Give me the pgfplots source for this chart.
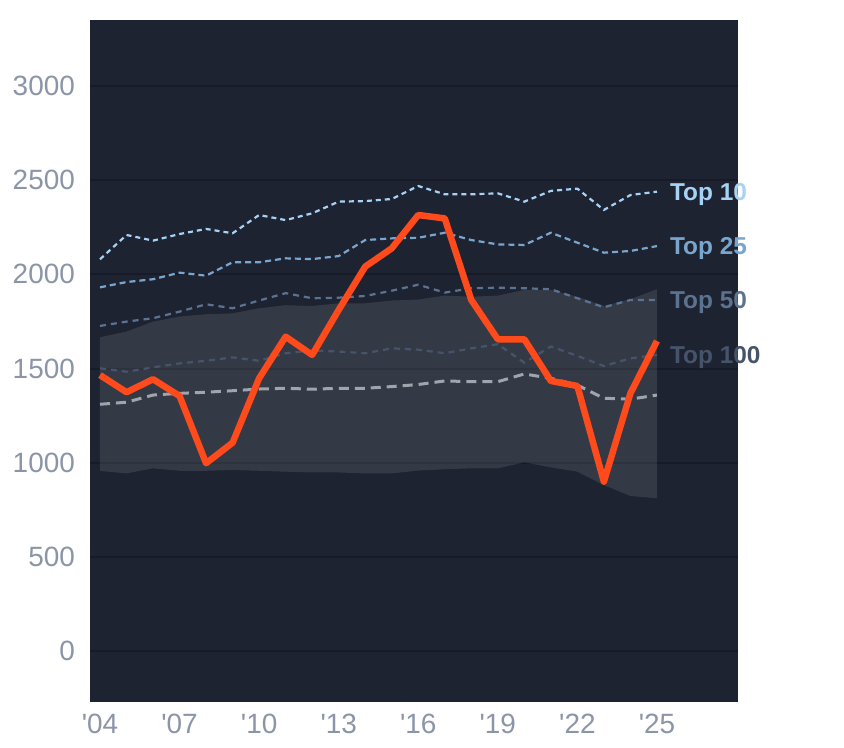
\documentclass[border=0pt]{standalone}
\usepackage{fontspec}
\setmainfont{Liberation Sans}[Ligatures=TeXOff]
\usepackage{pgfplots}
\usepackage{pgfplotstable}
\pgfplotsset{compat=1.18}
\definecolor{bgc}{HTML}{1E2331}
\definecolor{gridc}{HTML}{171B27}
\definecolor{tickc}{HTML}{8B95A7}
\definecolor{redc}{HTML}{FF4A1C}
\definecolor{t10}{HTML}{A6D2F5}
\definecolor{t25}{HTML}{79A6CF}
\definecolor{t50}{HTML}{5B7391}
\definecolor{t100}{HTML}{46546B}
\definecolor{grayc}{HTML}{A0A4AD}
\pgfplotstableread{
year red top10 top25 top50 top100 med
2004 1465 2080 1931 1726 1501 1310
2005 1374 2209 1959 1749 1483 1321
2006 1443 2179 1974 1767 1506 1359
2007 1354 2214 2009 1802 1527 1368
2008 997 2241 1993 1841 1541 1374
2009 1106 2218 2064 1820 1559 1382
2010 1448 2315 2064 1861 1541 1391
2011 1669 2288 2085 1900 1581 1395
2012 1572 2324 2081 1873 1595 1390
2013 1811 2386 2097 1876 1590 1395
2014 2041 2389 2182 1885 1581 1395
2015 2138 2400 2191 1913 1607 1404
2016 2315 2469 2194 1945 1600 1415
2017 2297 2425 2221 1903 1581 1434
2018 1864 2425 2182 1926 1607 1430
2019 1655 2430 2159 1929 1629 1430
2020 1655 2386 2156 1926 1531 1471
2021 1434 2443 2221 1921 1617 1448
2022 1407 2455 2168 1873 1567 1412
2023 899 2342 2115 1825 1513 1342
2024 1368 2421 2124 1864 1554 1337
2025 1646 2439 2150 1864 1572 1359
}\data
\begin{document}
\begin{tikzpicture}
\fill[white] (0,0) rectangle (844bp,748bp);
\begin{axis}[
  at={(90bp,46bp)}, anchor=south west,
  scale only axis, width=648bp, height=682bp,
  xmin=2003.623, xmax=2028.057, ymin=-270.8, ymax=3350.5,
  axis background/.style={fill=bgc},
  axis line style={draw=none},
  major tick length=0pt,
  clip=false,
  ytick={0,500,1000,1500,2000,2500,3000},
  xtick={2004,2007,2010,2013,2016,2019,2022,2025},
  xticklabels={'04,'07,'10,'13,'16,'19,'22,'25},
  /pgf/number format/assume math mode=true,
  /pgf/number format/1000 sep={},
  yticklabel style={font=\fontsize{28}{28}\selectfont, text=tickc, inner sep=0pt, anchor=east, xshift=-15bp},
  xticklabel style={font=\fontsize{28}{28}\selectfont, text=tickc, inner sep=0pt, anchor=north, yshift=-12bp},
  ymajorgrids,
  grid style={draw=gridc, line width=2bp},
]
% band: upper edge forward, lower edge backward
\addplot[fill=white, fill opacity=0.1, draw=none] coordinates {
(2004,1666) (2005,1696) (2006,1749) (2007,1776) (2008,1788) (2009,1793) (2010,1820) (2011,1836)
(2012,1832) (2013,1846) (2014,1846) (2015,1861) (2016,1866) (2017,1887) (2018,1881) (2019,1887)
(2020,1917) (2021,1917) (2022,1881) (2023,1832) (2024,1868) (2025,1921)
(2025,811) (2024,823) (2023,881) (2022,952) (2021,975) (2020,1002) (2019,970) (2018,970)
(2017,965) (2016,958) (2015,943) (2014,943) (2013,948) (2012,948) (2011,952) (2010,957)
(2009,961) (2008,957) (2007,957) (2006,970) (2005,943) (2004,956)
} -- cycle;
\addplot[t100, line width=2.2bp, dash pattern=on 6bp off 5bp] table[x=year,y=top100]{\data};
\addplot[t50, line width=2.2bp, dash pattern=on 6bp off 5bp] table[x=year,y=top50]{\data};
\addplot[t25, line width=2.2bp, dash pattern=on 6bp off 4bp] table[x=year,y=top25]{\data};
\addplot[t10, line width=2.2bp, dash pattern=on 5bp off 4bp] table[x=year,y=top10]{\data};
\addplot[grayc, line width=3bp, dash pattern=on 10bp off 6bp] table[x=year,y=med]{\data};
\addplot[redc, line width=6.5bp, line join=round] table[x=year,y=red]{\data};
\node[anchor=base west, inner sep=0pt, xshift=13bp, yshift=-8.5bp, text=t10, font=\fontsize{24.5}{24.5}\selectfont\bfseries] at (axis cs:2025,2439) {Top 10};
\node[anchor=base west, inner sep=0pt, xshift=13bp, yshift=-8.5bp, text=t25, font=\fontsize{24.5}{24.5}\selectfont\bfseries] at (axis cs:2025,2150) {Top 25};
\node[anchor=base west, inner sep=0pt, xshift=13bp, yshift=-8.5bp, text=t50, font=\fontsize{24.5}{24.5}\selectfont\bfseries] at (axis cs:2025,1864) {Top 50};
\node[anchor=base west, inner sep=0pt, xshift=13bp, yshift=-8.5bp, text=t100, font=\fontsize{24.5}{24.5}\selectfont\bfseries] at (axis cs:2025,1572) {Top 100};
\end{axis}
\end{tikzpicture}
\end{document}
